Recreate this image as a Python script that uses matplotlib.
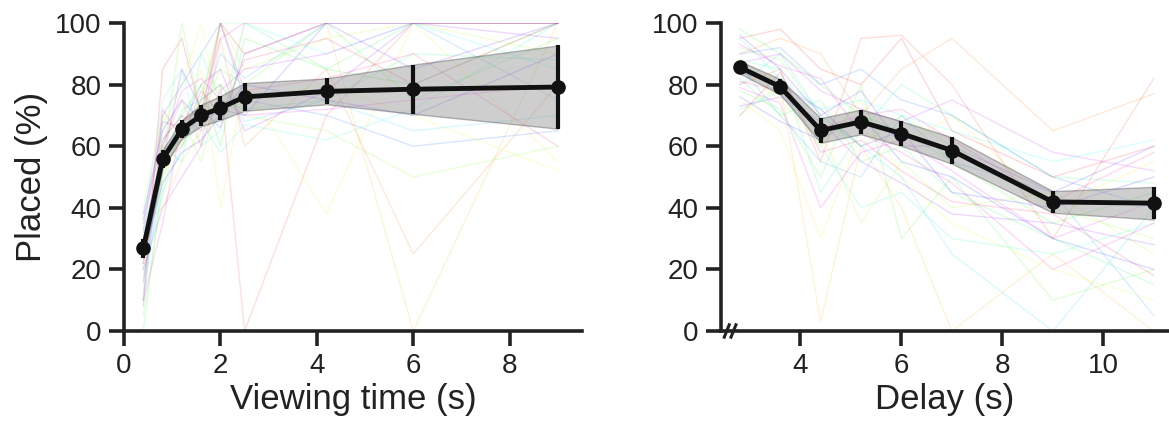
import numpy as np
import matplotlib
matplotlib.use("Agg")
import matplotlib.pyplot as plt

plt.rcParams.update({
    "font.family": ["Liberation Sans", "DejaVu Sans"],
    "axes.linewidth": 2.6,
    "xtick.major.width": 2.6,
    "ytick.major.width": 2.6,
    "xtick.major.size": 11,
    "ytick.major.size": 11,
    "xtick.major.pad": 4.5,
    "ytick.major.pad": 5,
    "xtick.labelsize": 20,
    "ytick.labelsize": 20,
    "axes.labelsize": 25,
    "text.color": "#222222",
    "axes.edgecolor": "#222222",
    "xtick.color": "#222222",
    "ytick.color": "#222222",
    "axes.labelcolor": "#222222",
})

# ---- viewing time panel ----
view_x = [0.4, 0.8, 1.2, 1.6, 2.0, 2.5, 4.2, 6.0, 9.0]
view_mean = [26.8, 55.8, 65.5, 70.0, 72.4, 76.0, 77.8, 78.5, 79.2]
view_err = [3.0, 3.0, 3.0, 3.5, 3.9, 4.5, 4.2, 8.0, 13.5]
view_subjects = [
    [10, 85, 95, 70, 100, 90, 100, 100, 100],
    [30, 55, 60, 75, 80, 0, 70, 100, 100],
    [20, 60, 75, 60, 95, 60, 85, 25, 80],
    [35, 40, 55, 65, 70, 100, 100, 0, 100],
    [25, 50, 65, 85, 40, 80, 38, 100, 55],
    [15, 65, 80, 100, 70, 75, 80, 70, 52],
    [40, 70, 60, 75, 100, 85, 95, 100, 90],
    [5, 45, 70, 55, 80, 70, 65, 50, 60],
    [28, 55, 100, 70, 85, 80, 100, 75, 95],
    [22, 62, 70, 80, 60, 95, 85, 80, 100],
    [0, 50, 65, 75, 100, 100, 85, 100, 100],
    [30, 60, 55, 90, 75, 72, 75, 90, 88],
    [18, 45, 60, 68, 58, 67, 62, 72, 100],
    [35, 75, 85, 60, 65, 100, 90, 100, 85],
    [12, 52, 72, 75, 80, 68, 75, 65, 70],
    [32, 58, 62, 70, 90, 82, 100, 100, 75],
    [8, 70, 80, 90, 100, 75, 70, 60, 65],
    [38, 65, 75, 68, 72, 70, 100, 100, 100],
    [24, 48, 58, 62, 70, 80, 75, 70, 90],
    [16, 55, 85, 72, 66, 90, 100, 85, 100],
    [33, 68, 66, 80, 85, 65, 78, 100, 95],
    [20, 40, 50, 60, 78, 85, 90, 100, 100],
    [27, 60, 78, 82, 75, 70, 72, 75, 80],
    [10, 35, 68, 72, 95, 100, 100, 100, 100],
    [36, 62, 70, 65, 100, 78, 82, 90, 60],
    [22, 72, 62, 78, 70, 88, 95, 80, 100],
]

# ---- delay panel ----
delay_x = [2.8, 3.6, 4.4, 5.2, 6.0, 7.0, 9.0, 11.0]
delay_mean = [85.6, 79.3, 65.1, 67.9, 64.1, 58.6, 41.9, 41.5]
delay_err = [2.0, 2.5, 4.0, 4.0, 4.0, 4.3, 3.5, 5.3]
delay_subjects = [
    [95, 98, 85, 80, 95, 65, 50, 60],
    [80, 85, 55, 95, 96, 80, 30, 82],
    [90, 95, 90, 70, 85, 95, 65, 77],
    [88, 80, 3, 60, 40, 0, 25, 0],
    [75, 65, 30, 65, 60, 70, 40, 55],
    [85, 75, 60, 75, 50, 35, 20, 10],
    [70, 80, 65, 35, 55, 40, 45, 25],
    [92, 88, 70, 60, 70, 60, 40, 30],
    [78, 72, 50, 80, 30, 50, 10, 20],
    [98, 90, 80, 70, 65, 55, 35, 45],
    [82, 70, 75, 55, 60, 45, 30, 15],
    [88, 85, 45, 65, 80, 70, 50, 48],
    [72, 78, 60, 40, 45, 30, 25, 35],
    [95, 82, 72, 75, 70, 65, 55, 62],
    [80, 90, 70, 60, 50, 25, 0, 40],
    [86, 70, 55, 50, 70, 55, 45, 5],
    [90, 92, 80, 85, 75, 70, 50, 40],
    [76, 68, 62, 70, 55, 50, 30, 20],
    [84, 80, 72, 60, 65, 45, 40, 50],
    [96, 85, 70, 78, 60, 60, 45, 60],
    [73, 76, 68, 55, 48, 38, 35, 28],
    [87, 90, 78, 72, 68, 75, 58, 52],
    [79, 74, 40, 58, 62, 52, 30, 42],
    [93, 86, 82, 64, 58, 48, 20, 35],
    [81, 78, 66, 70, 72, 62, 42, 58],
    [70, 84, 58, 62, 52, 42, 38, 18],
]


def draw_panel(ax, x, mean, err, subjects):
    cmap = plt.get_cmap("hsv")
    n = len(subjects)
    for i, s in enumerate(subjects):
        ax.plot(x, s, color=cmap(i / n), alpha=0.15, lw=1.0, zorder=1)
    mean = np.array(mean)
    err = np.array(err)
    ax.fill_between(x, mean - err, mean + err, facecolor="0.55", alpha=0.42,
                    edgecolor="0.35", lw=1.0, zorder=2)
    ax.errorbar(x, mean, yerr=err, fmt="o-", color="#111111", lw=3.5,
                elinewidth=3, ms=9.5, capsize=0, zorder=3)
    ax.spines["top"].set_visible(False)
    ax.spines["right"].set_visible(False)
    ax.set_ylim(0, 100)
    ax.set_yticks([0, 20, 40, 60, 80, 100])


fig = plt.figure(figsize=(11.69, 4.21), dpi=100)
ax1 = fig.add_axes([0.1061, 0.2138, 0.3918, 0.7316])
ax2 = fig.add_axes([0.6165, 0.2138, 0.3835, 0.7316])

draw_panel(ax1, view_x, view_mean, view_err, view_subjects)
ax1.set_xlim(0, 9.5)
ax1.set_xticks([0, 2, 4, 6, 8])
ax1.set_xlabel("Viewing time (s)", labelpad=3)
ax1.set_ylabel("Placed (%)", labelpad=5)

draw_panel(ax2, delay_x, delay_mean, delay_err, delay_subjects)
ax2.set_xlim(2.42, 11.3)
ax2.set_xticks([4, 6, 8, 10])
ax2.set_xlabel("Delay (s)", labelpad=3)

# axis break marks
for x0 in (0.008, 0.023):
    ax2.plot([x0, x0 + 0.011], [-0.02, 0.02], transform=ax2.transAxes,
             color="#222222", lw=2.2, clip_on=False, zorder=5)

fig.savefig("out.png", dpi=100)
